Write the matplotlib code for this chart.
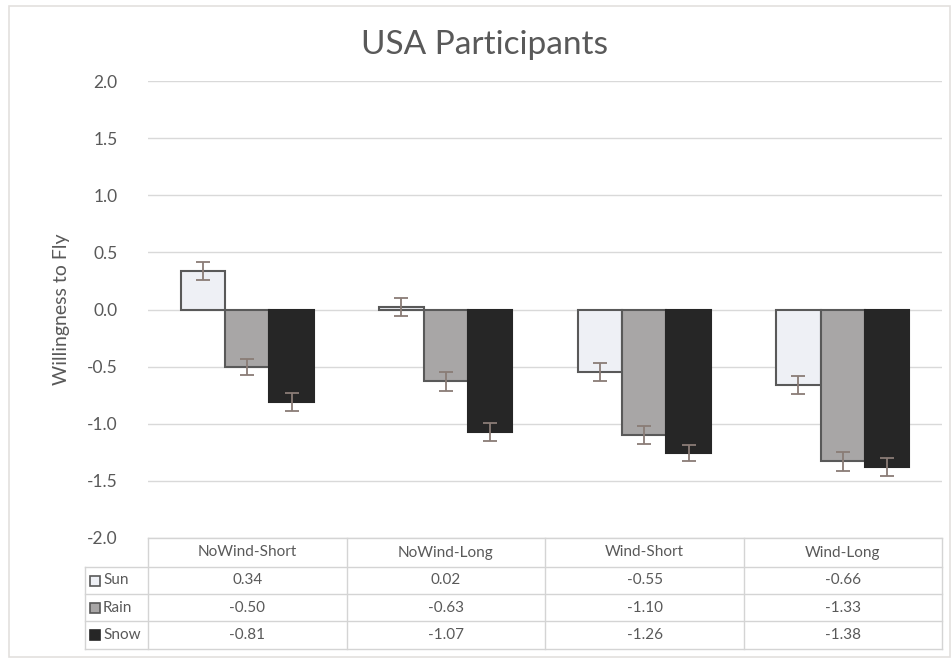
import matplotlib.pyplot as plt
import numpy as np
from matplotlib.patches import Rectangle

plt.rcParams['font.family'] = ['Lato', 'DejaVu Sans']

# data
categories = ['NoWind-Short', 'NoWind-Long', 'Wind-Short', 'Wind-Long']
series = ['Sun', 'Rain', 'Snow']
sun = [0.34, 0.02, -0.55, -0.66]
rain = [-0.50, -0.63, -1.10, -1.33]
snow = [-0.81, -1.07, -1.26, -1.38]
sun_err = [0.08, 0.08, 0.08, 0.08]
rain_err = [0.07, 0.08, 0.08, 0.08]
snow_err = [0.08, 0.08, 0.07, 0.08]
values = [sun, rain, snow]
errors = [sun_err, rain_err, snow_err]
fills = ['#EEF0F5', '#A8A6A6', '#262626']
edges = ['#595959', '#595959', '#262626']

W, H = 953, 659
fig = plt.figure(figsize=(W / 100, H / 100), dpi=100)

def fx(px):
    return px / W

def fy(py):
    return 1 - py / H

# outer chart border
fig.add_artist(Rectangle((fx(9), fy(657)), fx(941), (651) / H, transform=fig.transFigure,
                         fill=False, edgecolor='#E3E0DE', lw=1.2))

# plot area
left, right, top, bottom = 148, 942, 81, 538
ax = fig.add_axes([fx(left), fy(bottom), fx(right - left), (bottom - top) / H])

x = np.arange(len(categories))
width = 0.223
for i, (vals, errs) in enumerate(zip(values, errors)):
    ax.bar(x + (i - 1) * width, vals, width, color=fills[i], edgecolor=edges[i],
           linewidth=1.5, zorder=3)
    ax.errorbar(x + (i - 1) * width, vals, yerr=errs, fmt='none', ecolor='#8A7C76',
                elinewidth=1.3, capsize=5, capthick=1.3, zorder=4)

ax.set_xlim(-0.5, len(categories) - 0.5)
ax.set_ylim(-2.0, 2.0)
ax.set_yticks(np.arange(-2.0, 2.01, 0.5))
ax.set_yticklabels([f'{t:.1f}' for t in np.arange(-2.0, 2.01, 0.5)])
ax.tick_params(axis='y', length=0, pad=22, labelsize=12.5, labelcolor='#595959')
ax.set_xticks([])
ax.grid(axis='y', color='#D9D9D9', linewidth=1, zorder=0)
for s in ax.spines.values():
    s.set_visible(False)
ax.set_ylabel('Willingness to Fly', fontsize=14, color='#595959', labelpad=12)

fig.text(fx(485), fy(45), 'USA Participants', ha='center', va='center',
         fontsize=24, color='#595959')

# data table
line_c = '#D4D4D4'
cols = [148, 347, 545, 744, 942]
rows = [538, 567, 594, 621, 649]

def hline(y, x0, x1):
    fig.add_artist(plt.Line2D([fx(x0), fx(x1)], [fy(y), fy(y)], color=line_c, lw=1))

def vline(xp, y0, y1):
    fig.add_artist(plt.Line2D([fx(xp), fx(xp)], [fy(y0), fy(y1)], color=line_c, lw=1))

hline(rows[0], cols[0], cols[-1])
for r in rows[1:]:
    hline(r, 85, cols[-1])
for c in cols:
    vline(c, rows[0], rows[-1])
vline(85, rows[1], rows[-1])

for j, cat in enumerate(categories):
    cx = (cols[j] + cols[j + 1]) / 2
    fig.text(fx(cx), fy((rows[0] + rows[1]) / 2), cat, ha='center', va='center',
             fontsize=11, color='#595959')
    for i, vals in enumerate(values):
        cy = (rows[i + 1] + rows[i + 2]) / 2
        fig.text(fx(cx), fy(cy), f'{vals[j]:.2f}', ha='center', va='center',
                 fontsize=11, color='#595959')

for i, name in enumerate(series):
    cy = (rows[i + 1] + rows[i + 2]) / 2
    fig.add_artist(Rectangle((fx(90), fy(cy + 5)), fx(10), 10 / H, transform=fig.transFigure,
                             facecolor=fills[i], edgecolor=edges[i], lw=1.2))
    fig.text(fx(103), fy(cy), name, ha='left', va='center', fontsize=11, color='#595959')

fig.savefig('out.png', dpi=100)
